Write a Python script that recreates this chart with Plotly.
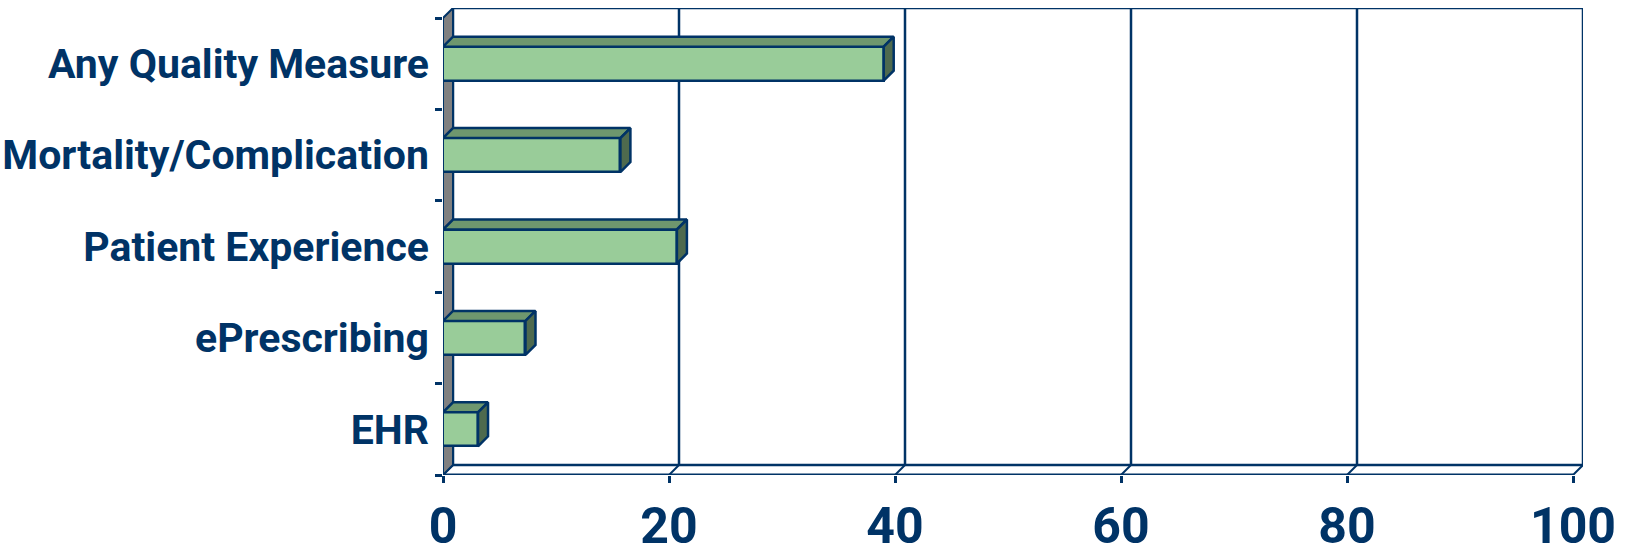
import plotly.graph_objects as go

categories = ["EHR", "ePrescribing", "Patient Experience", "Mortality/Complication", "Any Quality Measure"]
values = [3.1, 7.3, 20.7, 15.7, 39.0]
x_ticks = [0, 20, 40, 60, 80, 100]

NAVY = "#003366"
FRONT = "#99CC99"
TOP = "#6E976E"
SIDE = "#4E6A4E"
WALL = "#808080"
FONT = "Roboto, Liberation Sans, sans-serif"

W, H = 1632, 555
ML, MR, MT, MB = 443, 49, 8, 80
px_x = 11.3
DX = 10 / px_x
XMAX = (W - ML - MR) / px_x
plot_h = H - MT - MB
n = len(categories)
px_y = (plot_h - 10) / n
DY = 10 / px_y
YMIN = -0.5
YMAX = YMIN + plot_h / px_y
BW = 34 / px_y

ypos = list(range(n))

fig = go.Figure()
shapes = []
# back wall
shapes.append(dict(type="rect", xref="x", yref="y", x0=DX, x1=100 + DX, y0=YMIN + DY, y1=n - 0.5 + DY,
                   line=dict(color=NAVY, width=2.5), fillcolor="white", layer="below"))
# gridlines on back wall
for v in x_ticks[1:-1]:
    shapes.append(dict(type="line", xref="x", yref="y", x0=v + DX, x1=v + DX, y0=YMIN + DY, y1=n - 0.5 + DY,
                       line=dict(color=NAVY, width=2.5), layer="below"))
# floor
shapes.append(dict(type="line", xref="x", yref="y", x0=0, x1=100, y0=YMIN, y1=YMIN,
                   line=dict(color=NAVY, width=3), layer="below"))
for v in x_ticks:
    shapes.append(dict(type="line", xref="x", yref="y", x0=v, x1=v + DX, y0=YMIN, y1=YMIN + DY,
                       line=dict(color=NAVY, width=2), layer="below"))
# left wall
shapes.append(dict(type="path", xref="x", yref="y",
                   path=f"M 0 {YMIN} L 0 {n-0.5} L {DX} {n-0.5+DY} L {DX} {YMIN+DY} Z",
                   fillcolor=WALL, line=dict(color=NAVY, width=2), layer="below"))

# bar front faces
fig.add_trace(go.Bar(x=values, y=ypos, orientation="h", width=BW, base=0,
                     marker=dict(color=FRONT, line=dict(color=NAVY, width=2.5)), hoverinfo="skip"))

# top faces and side faces
tx, ty, sx, sy = [], [], [], []
for yi, v in zip(ypos, values):
    top = yi + BW / 2
    bot = yi - BW / 2
    tx += [0, v, v + DX, DX, 0, None]
    ty += [top, top, top + DY, top + DY, top, None]
    sx += [v, v, v + DX, v + DX, v, None]
    sy += [bot, top, top + DY, bot + DY, bot, None]
fig.add_trace(go.Scatter(x=tx, y=ty, fill="toself", fillcolor=TOP, mode="lines",
                         line=dict(color=NAVY, width=2.5), hoverinfo="skip"))
fig.add_trace(go.Scatter(x=sx, y=sy, fill="toself", fillcolor=SIDE, mode="lines",
                         line=dict(color=NAVY, width=2.5), hoverinfo="skip"))

fig.update_layout(
    width=W, height=H,
    margin=dict(l=ML, r=MR, t=MT, b=MB, pad=0),
    paper_bgcolor="white", plot_bgcolor="rgba(0,0,0,0)",
    showlegend=False, shapes=shapes, bargap=0,
    xaxis=dict(range=[0, XMAX], tickvals=x_ticks, ticktext=[str(t) for t in x_ticks],
               showgrid=False, zeroline=False, showline=False,
               ticks="outside", ticklen=7, tickwidth=2.5, tickcolor=NAVY,
               ticklabelstandoff=0,
               tickfont=dict(family=FONT, size=50, color=NAVY, weight="bold"), automargin=False),
    yaxis=dict(range=[YMIN, YMAX], tickvals=ypos, ticktext=categories,
               showgrid=False, zeroline=False, showline=False, ticks="",
               ticklabelstandoff=13,
               minor=dict(tickvals=[i - 0.5 for i in range(n + 1)], ticks="outside", ticklen=7,
                          tickwidth=2.5, tickcolor=NAVY, showgrid=False),
               tickfont=dict(family=FONT, size=41, color=NAVY, weight="bold"), automargin=False),
)

fig.write_html("out.html")
